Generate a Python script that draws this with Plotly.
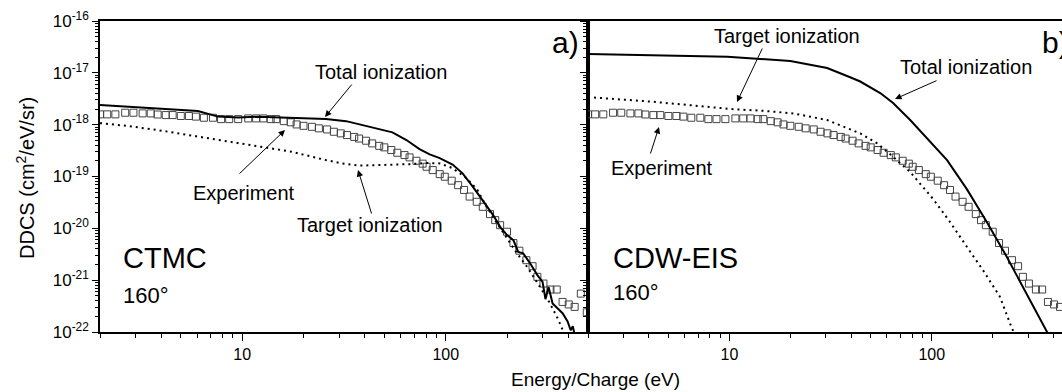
import math
import plotly.graph_objects as go

# ---------------- data ----------------
# Experiment (same data shown in both panels)
exp_energy = [2.0, 2.17, 2.38, 2.66, 2.92, 3.24, 3.55, 3.84, 4.21, 4.55, 4.99, 5.47, 5.92, 6.48,
              7.18, 7.87, 8.63, 9.55, 10.7, 11.7, 12.7, 13.8, 14.7, 16.0, 17.3, 18.5, 20.0, 22.0,
              23.8, 26.1, 28.2, 30.5, 32.7, 35.5, 37.5, 40.6, 43.5, 47.1, 49.9, 54.0, 57.8, 62.7,
              66.4, 71.8, 77.0, 80.5, 86.3, 93.4, 98.9, 107, 115, 123, 131, 142, 152, 165, 175,
              185, 200, 215, 230, 249, 267, 282, 302, 327, 351, 375, 402, 430, 461, 493]
exp_ddcs = [1.58e-18, 1.58e-18, 1.58e-18, 1.70e-18, 1.70e-18, 1.65e-18, 1.65e-18, 1.57e-18,
            1.53e-18, 1.53e-18, 1.47e-18, 1.47e-18, 1.43e-18, 1.36e-18, 1.36e-18, 1.28e-18,
            1.28e-18, 1.28e-18, 1.32e-18, 1.32e-18, 1.32e-18, 1.28e-18, 1.28e-18, 1.17e-18,
            1.11e-18, 1.01e-18, 9.5e-19, 9.1e-19, 8.5e-19, 8.1e-19, 7.3e-19, 6.8e-19, 6.3e-19,
            5.8e-19, 5.4e-19, 4.9e-19, 4.35e-19, 3.9e-19, 3.65e-19, 3.24e-19, 2.87e-19, 2.59e-19,
            2.34e-19, 2.01e-19, 1.77e-19, 1.54e-19, 1.33e-19, 1.11e-19, 9.9e-20, 8.3e-20, 6.8e-20,
            5.5e-20, 4.1e-20, 3.25e-20, 2.6e-20, 1.88e-20, 1.44e-20, 1.15e-20, 8.6e-21, 5.2e-21,
            3.7e-21, 2.43e-21, 1.86e-21, 1.16e-21, 8.6e-22, 6.6e-22, 6.6e-22, 3.8e-22, 3.4e-22,
            3.05e-22, 5.5e-22, 2.4e-22]

# CTMC total ionization (panel a)
ctmc_total_energy = [2.0, 2.76, 4.06, 6.05, 7.6, 9.55, 12.0, 17.5, 25.8, 32.4, 37.5, 44.5, 54.7,
                     64.1, 74.3, 83.4, 93.4, 108, 121, 136, 152, 171, 185, 200, 215, 227, 240,
                     260, 282, 299, 309, 320, 335, 355, 375, 397, 411, 421, 430]
ctmc_total_ddcs = [2.39e-18, 2.22e-18, 2.05e-18, 1.83e-18, 1.43e-18, 1.38e-18, 1.42e-18, 1.37e-18,
                   1.28e-18, 1.17e-18, 1.01e-18, 8.8e-19, 7.1e-19, 5.05e-19, 3.38e-19, 2.67e-19,
                   2.27e-19, 1.70e-19, 1.15e-19, 6.3e-20, 3.5e-20, 1.8e-20, 1.07e-20, 7.4e-21,
                   5.9e-21, 3.5e-21, 3.3e-21, 2.1e-21, 1.25e-21, 9.3e-22, 4.3e-22, 7.4e-22,
                   3.55e-22, 2.9e-22, 2.3e-22, 1.6e-22, 1.08e-22, 1.3e-22, 8.7e-23]

# CTMC target ionization (panel a)
ctmc_target_energy = [2.0, 2.76, 4.06, 5.9, 8.6, 12.8, 17.5, 25.8, 30.9, 37.5, 45.6, 54.7, 66.4,
                      80.5, 93.4, 108, 127, 143, 159, 179, 200, 224, 251, 282, 316, 339, 358,
                      379, 397]
ctmc_target_ddcs = [1.07e-18, 9.4e-19, 7.6e-19, 6.0e-19, 4.68e-19, 3.7e-19, 3.0e-19, 2.07e-19,
                    1.79e-19, 1.62e-19, 1.64e-19, 1.67e-19, 1.73e-19, 1.82e-19, 1.79e-19,
                    1.45e-19, 9.2e-20, 5.5e-20, 2.6e-20, 1.24e-20, 6.4e-21, 3.3e-21, 1.81e-21,
                    8.6e-22, 4.4e-22, 2.6e-22, 1.7e-22, 1.0e-22, 6.9e-23]

# CDW-EIS total ionization (panel b)
cdw_total_energy = [2.0, 9.77, 20.0, 30.4, 39.5, 44.3, 55.6, 64.4, 78.2, 98.1, 119, 149, 187,
                    235, 295, 371, 440]
cdw_total_ddcs = [2.31e-17, 2.05e-17, 1.69e-17, 1.24e-17, 8.2e-18, 6.8e-18, 4.07e-18, 2.61e-18,
                  1.23e-18, 4.8e-19, 2.07e-19, 5.7e-20, 1.32e-20, 2.8e-21, 5.5e-22, 1.0e-22,
                  2.9e-23]

# CDW-EIS target ionization (panel b)
cdw_target_energy = [2.0, 4.17, 10.7, 14.2, 20.7, 30.4, 44.3, 53.7, 64.4, 78.2, 101, 123, 149,
                     179, 217, 249, 273]
cdw_target_ddcs = [3.4e-18, 2.77e-18, 1.97e-18, 1.87e-18, 1.65e-18, 1.23e-18, 6.8e-19, 4.35e-19,
                   2.4e-19, 1.22e-19, 3.78e-20, 1.33e-20, 4.4e-21, 1.56e-21, 4.8e-22, 1.17e-22,
                   5.6e-23]

x_tick_vals = [10, 100]
x_tick_text = ["10", "100"]
y_exponents = [-16, -17, -18, -19, -20, -21, -22]

# ---------------- layout constants ----------------
W, H = 1062, 392
ML, MR, MT, MB = 100, 0, 21, 60
PW, PH = W - ML - MR, H - MT - MB
SPLIT = 588  # pixel x of the shared boundary
dom_a = [0, (SPLIT - ML) / PW]
dom_b = [(SPLIT - ML) / PW, 1]

FONT = "Arial, 'Liberation Sans', Helvetica, sans-serif"


def px(x):
    return (x - ML) / PW


def py(y):
    return (H - MB - y) / PH


x_minor = [m * 10 ** k for k in range(0, 3) for m in range(2, 10)]
x_minor = [v for v in x_minor if v not in (10, 100)]
y_major = [10.0 ** e for e in y_exponents]
y_minor = [m * 10.0 ** k for k in range(-22, -16) for m in range(2, 10)]
y_text = ["10<sup>%d</sup>" % e for e in y_exponents]

fig = go.Figure()

sq = dict(symbol="square-open", size=7, color="#444444", line=dict(width=1, color="#444444"))
for xa, ya in (("x", "y"), ("x2", "y2")):
    fig.add_trace(go.Scatter(x=exp_energy, y=exp_ddcs, mode="markers", marker=sq,
                             xaxis=xa, yaxis=ya, showlegend=False))

solid = dict(color="black", width=2)
dotted = dict(color="black", width=2, dash="2px,4px")
fig.add_trace(go.Scatter(x=ctmc_total_energy, y=ctmc_total_ddcs, mode="lines", line=solid,
                         xaxis="x", yaxis="y", showlegend=False))
fig.add_trace(go.Scatter(x=ctmc_target_energy, y=ctmc_target_ddcs, mode="lines", line=dotted,
                         xaxis="x", yaxis="y", showlegend=False))
fig.add_trace(go.Scatter(x=cdw_total_energy, y=cdw_total_ddcs, mode="lines", line=solid,
                         xaxis="x2", yaxis="y2", showlegend=False))
fig.add_trace(go.Scatter(x=cdw_target_energy, y=cdw_target_ddcs, mode="lines", line=dotted,
                         xaxis="x2", yaxis="y2", showlegend=False))

xr_a = [math.log10(2), math.log10(500)]
xr_b = [math.log10(2), math.log10(440)]
yr = [-22, -16]

tickfont = dict(family=FONT, size=16, color="black")
xcommon = dict(type="log", showgrid=False, zeroline=False, showline=True, linecolor="black",
               linewidth=1.5, ticks="outside", ticklen=7, tickwidth=1, tickcolor="black",
               tickmode="array", tickvals=x_tick_vals, ticktext=x_tick_text, tickfont=tickfont,
               minor=dict(ticks="outside", ticklen=4, tickcolor="black", tickwidth=1,
                          tickmode="array", tickvals=x_minor, showgrid=False))
ycommon = dict(type="log", range=yr, showgrid=False, zeroline=False, showline=True,
               linecolor="black", linewidth=1.5, ticks="outside", ticklen=6, tickwidth=1,
               tickcolor="black", tickmode="array", tickvals=y_major, ticktext=y_text,
               tickfont=dict(family=FONT, size=17, color="black"),
               minor=dict(ticks="outside", ticklen=3, tickcolor="black", tickwidth=1,
                          tickmode="array", tickvals=y_minor, showgrid=False))

top_common = dict(type="log", side="top", showgrid=False, zeroline=False, showline=False,
                  ticks="inside", ticklen=7, tickcolor="black", tickmode="array",
                  tickvals=x_tick_vals, showticklabels=False,
                  minor=dict(ticks="inside", ticklen=4, tickcolor="black", tickmode="array",
                             tickvals=x_minor, showgrid=False))

fig.update_layout(
    width=W, height=H, margin=dict(l=ML, r=MR, t=MT, b=MB),
    paper_bgcolor="white", plot_bgcolor="white",
    font=dict(family=FONT, size=16, color="black"),
    xaxis=dict(**xcommon, domain=dom_a, range=xr_a, anchor="y", mirror=True),
    xaxis2=dict(**xcommon, domain=dom_b, range=xr_b, anchor="y2", mirror=True),
    yaxis=dict(**ycommon, domain=[0, 1], anchor="x", mirror=True),
    yaxis2=dict(**ycommon, domain=[0, 1], anchor="x2", showticklabels=False, mirror=False),
    # inward ticks on the top edges
    xaxis3=dict(**top_common, range=xr_a, overlaying="x", anchor="y"),
    xaxis4=dict(**top_common, range=xr_b, overlaying="x2", anchor="y2"),
)

ann = []


def text(x, y, s, size=20, xanchor="center", angle=0):
    ann.append(dict(x=px(x), y=py(y), xref="paper", yref="paper", text=s, showarrow=False,
                    xanchor=xanchor, yanchor="middle", textangle=angle,
                    font=dict(family=FONT, size=size, color="black")))


def arrow(tail, tip):
    ann.append(dict(x=px(tip[0]), y=py(tip[1]), xref="paper", yref="paper", text="",
                    showarrow=True, ax=tail[0] - tip[0], ay=tail[1] - tip[1],
                    arrowhead=2, arrowsize=1.3, arrowwidth=1, arrowcolor="black",
                    font=dict(family=FONT, size=12, color="black")))


# panel a
text(381, 72, "Total ionization")
text(244, 193, "Experiment")
text(370, 225, "Target ionization")
text(565, 43, "a)", size=30)
text(121, 258, "CTMC", size=29, xanchor="left")
text(121, 295, "160°", size=22, xanchor="left")
arrow((353, 83), (325, 117))
arrow((238, 175), (285, 130))
arrow((372, 215), (358, 170))
# panel b
text(787, 36, "Target ionization")
text(966, 67, "Total ionization")
text(662, 168, "Experiment")
text(1040, 43, "b)", size=30, xanchor="left")
text(611, 258, "CDW-EIS", size=29, xanchor="left")
text(611, 292, "160°", size=22, xanchor="left")
arrow((763, 47), (737, 102))
arrow((938, 80), (895, 99))
arrow((650, 155), (659, 127))
# axis titles
text(595, 379, "Energy/Charge (eV)", size=19)
text(25, 178, "DDCS (cm<sup>2</sup>/eV/sr)", size=20, angle=-90)

fig.update_layout(annotations=ann)
# the page's default body margin would shift the figure by 8 px; remove it
fig.write_html("out.html", config={"displayModeBar": False},
               post_script="document.body.style.margin='0';")
